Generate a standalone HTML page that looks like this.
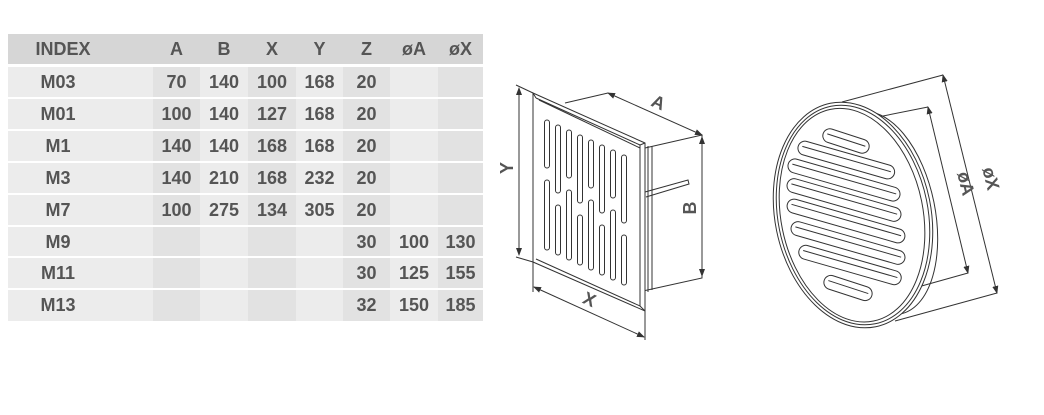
<!DOCTYPE html>
<html><head><meta charset="utf-8"><style>
body{margin:0;width:1044px;height:415px;background:#fff;overflow:hidden;font-family:"Liberation Sans",sans-serif}
.r{position:absolute;left:0;height:30px;width:475px}
.c{position:absolute;top:0;height:30px;line-height:30px;text-align:center;font-weight:bold;font-size:18px;color:#555}
</style></head><body>
<div style="position:absolute;left:8px;top:34px">
<svg width="476" height="290" style="position:absolute;left:0;top:0">
<rect x="0" y="0" width="475" height="30" fill="#d6d6d6"/>
<rect x="0" y="33" width="475" height="254" fill="#ececec"/>
<g fill="#e2e2e2">
<rect x="145" y="33" width="47" height="254"/>
<rect x="240" y="33" width="48" height="254"/>
<rect x="335" y="33" width="47" height="254"/>
<rect x="430" y="33" width="45" height="254"/>
</g>
<g fill="#fff">
<rect x="0" y="30" width="475" height="3"/>
<rect x="0" y="63" width="475" height="2"/>
<rect x="0" y="95" width="475" height="2"/>
<rect x="0" y="127" width="475" height="2"/>
<rect x="0" y="159" width="475" height="2"/>
<rect x="0" y="191" width="475" height="2"/>
<rect x="0" y="222" width="475" height="2"/>
<rect x="0" y="254" width="475" height="2"/>
</g>
</svg>
</div>
<div style="position:absolute;left:8px;top:34px;width:475px;height:290px">
<div class="r" style="top:0">
<div class="c" style="left:0;width:110px">INDEX</div><div class="c" style="left:145px;width:47px">A</div><div class="c" style="left:192px;width:48px">B</div><div class="c" style="left:240px;width:48px">X</div><div class="c" style="left:288px;width:47px">Y</div><div class="c" style="left:335px;width:47px">Z</div><div class="c" style="left:382px;width:48px">øA</div><div class="c" style="left:430px;width:45px">øX</div></div>
<div class="r" style="top:33px"><div class="c" style="left:0;width:100px">M03</div><div class="c" style="left:145px;width:47px">70</div><div class="c" style="left:192px;width:48px">140</div><div class="c" style="left:240px;width:48px">100</div><div class="c" style="left:288px;width:47px">168</div><div class="c" style="left:335px;width:47px">20</div></div>
<div class="r" style="top:65px"><div class="c" style="left:0;width:100px">M01</div><div class="c" style="left:145px;width:47px">100</div><div class="c" style="left:192px;width:48px">140</div><div class="c" style="left:240px;width:48px">127</div><div class="c" style="left:288px;width:47px">168</div><div class="c" style="left:335px;width:47px">20</div></div>
<div class="r" style="top:97px"><div class="c" style="left:0;width:100px">M1</div><div class="c" style="left:145px;width:47px">140</div><div class="c" style="left:192px;width:48px">140</div><div class="c" style="left:240px;width:48px">168</div><div class="c" style="left:288px;width:47px">168</div><div class="c" style="left:335px;width:47px">20</div></div>
<div class="r" style="top:129px"><div class="c" style="left:0;width:100px">M3</div><div class="c" style="left:145px;width:47px">140</div><div class="c" style="left:192px;width:48px">210</div><div class="c" style="left:240px;width:48px">168</div><div class="c" style="left:288px;width:47px">232</div><div class="c" style="left:335px;width:47px">20</div></div>
<div class="r" style="top:161px"><div class="c" style="left:0;width:100px">M7</div><div class="c" style="left:145px;width:47px">100</div><div class="c" style="left:192px;width:48px">275</div><div class="c" style="left:240px;width:48px">134</div><div class="c" style="left:288px;width:47px">305</div><div class="c" style="left:335px;width:47px">20</div></div>
<div class="r" style="top:193px"><div class="c" style="left:0;width:100px">M9</div><div class="c" style="left:335px;width:47px">30</div><div class="c" style="left:382px;width:48px">100</div><div class="c" style="left:430px;width:45px">130</div></div>
<div class="r" style="top:224px"><div class="c" style="left:0;width:100px">M11</div><div class="c" style="left:335px;width:47px">30</div><div class="c" style="left:382px;width:48px">125</div><div class="c" style="left:430px;width:45px">155</div></div>
<div class="r" style="top:256px"><div class="c" style="left:0;width:100px">M13</div><div class="c" style="left:335px;width:47px">32</div><div class="c" style="left:382px;width:48px">150</div><div class="c" style="left:430px;width:45px">185</div></div>
</div>

<svg width="1044" height="415" style="position:absolute;left:0;top:0" font-family="Liberation Sans, sans-serif">
<defs><marker id="ar" markerWidth="8" markerHeight="6" refX="7" refY="3" orient="auto-start-reverse" markerUnits="userSpaceOnUse"><path d="M0,0 L8,3 L0,6z" fill="#333"/></marker></defs>
<g stroke="#333" stroke-width="1" fill="none">
<path d="M565,103 L608,93"/>
<path d="M645,148 L702,135 L702,278 L643,291"/>
<path d="M648,146 L648,292 M652,146 L652,290"/>
<path d="M645,192 L688,180 L689,184 L646,197"/>
<path d="M533,93 L645,143 L645,311 L533,262 Z" fill="#fff"/>
<path d="M536,98 L640,145 L640,306 L536,259"/>
<path d="M536,98 L533,93 M640,145 L645,143 M640,306 L645,311"/>
<path d="M539,100 L640,148"/>
<g>
<rect x="544.5" y="120" width="5" height="48" rx="2.5"/><rect x="544.5" y="180" width="5" height="70" rx="2.5"/>
<rect x="555.5" y="125" width="5" height="68" rx="2.5"/><rect x="555.5" y="205" width="5" height="50" rx="2.5"/>
<rect x="566.5" y="130" width="5" height="48" rx="2.5"/><rect x="566.5" y="190" width="5" height="70" rx="2.5"/>
<rect x="577.5" y="135" width="5" height="68" rx="2.5"/><rect x="577.5" y="215" width="5" height="50" rx="2.5"/>
<rect x="588.5" y="140" width="5" height="48" rx="2.5"/><rect x="588.5" y="200" width="5" height="70" rx="2.5"/>
<rect x="599.5" y="145" width="5" height="68" rx="2.5"/><rect x="599.5" y="225" width="5" height="50" rx="2.5"/>
<rect x="610.5" y="150" width="5" height="48" rx="2.5"/><rect x="610.5" y="210" width="5" height="70" rx="2.5"/>
<rect x="621.5" y="155" width="5" height="68" rx="2.5"/><rect x="621.5" y="235" width="5" height="50" rx="2.5"/>
</g>
<path d="M516,85 L533,93 M516,257 L533,262"/>
<path d="M519,88 L519,255" marker-start="url(#ar)" marker-end="url(#ar)"/>
<path d="M608,93 L702,135" marker-start="url(#ar)" marker-end="url(#ar)"/>
<path d="M702,137 L702,276" marker-start="url(#ar)" marker-end="url(#ar)"/>
<path d="M533,262 L533,292 M645,311 L645,340"/>
<path d="M534,287 L644,337" marker-start="url(#ar)" marker-end="url(#ar)"/>
<g transform="rotate(-11.5 880 213)"><ellipse cx="880" cy="213" rx="55" ry="103" fill="#fff"/></g>
<path d="M842,102 L943,75 M878,117 L928,107 M895,321 L997,293 M918,287 L968,273"/>
<g transform="rotate(-11.5 853 215)"><ellipse cx="853" cy="215" rx="78" ry="114" fill="#fff"/><ellipse cx="853" cy="215" rx="75" ry="111"/><ellipse cx="852" cy="215" rx="71" ry="108"/></g>
<g fill="#fff">
<g transform="rotate(18 846 141)"><rect x="822" y="134" width="48" height="14" rx="7"/><path d="M826,140 L866,140"/></g>
<g transform="rotate(16 846 161)"><rect x="796" y="153" width="100" height="14" rx="7"/><path d="M800,159 L892,159"/></g>
<g transform="rotate(16 844 180)"><rect x="786" y="173" width="116" height="14" rx="7"/><path d="M790,179 L898,179"/></g>
<g transform="rotate(16 844 200)"><rect x="785" y="193" width="118" height="14" rx="7"/><path d="M789,199 L899,199"/></g>
<g transform="rotate(16 846 221)"><rect x="785" y="214" width="122" height="14" rx="7"/><path d="M789,220 L903,220"/></g>
<g transform="rotate(16 848 243)"><rect x="789" y="236" width="118" height="14" rx="7"/><path d="M793,242 L903,242"/></g>
<g transform="rotate(16 850 265)"><rect x="797" y="258" width="106" height="14" rx="7"/><path d="M801,264 L899,264"/></g>
<g transform="rotate(18 848 288)"><rect x="823" y="281" width="50" height="14" rx="7"/><path d="M827,287 L869,287"/></g>
</g>
<path d="M943,75 L997,293" marker-start="url(#ar)" marker-end="url(#ar)"/>
<path d="M928,107 L968,273" marker-start="url(#ar)" marker-end="url(#ar)"/>
</g>
<g fill="#555" font-size="18" font-weight="bold">
<text x="0" y="0" transform="translate(513,168) rotate(-90)" text-anchor="middle">Y</text>
<text x="0" y="0" transform="translate(656,108) rotate(24)" text-anchor="middle">A</text>
<text x="0" y="0" transform="translate(696,208) rotate(-90)" text-anchor="middle">B</text>
<text x="0" y="0" transform="translate(587,305) rotate(24)" text-anchor="middle">X</text>
<text x="0" y="0" transform="translate(960,185) rotate(76)" text-anchor="middle">øA</text>
<text x="0" y="0" transform="translate(985,180) rotate(76)" text-anchor="middle">øX</text>
</g>
</svg>
</body></html>
